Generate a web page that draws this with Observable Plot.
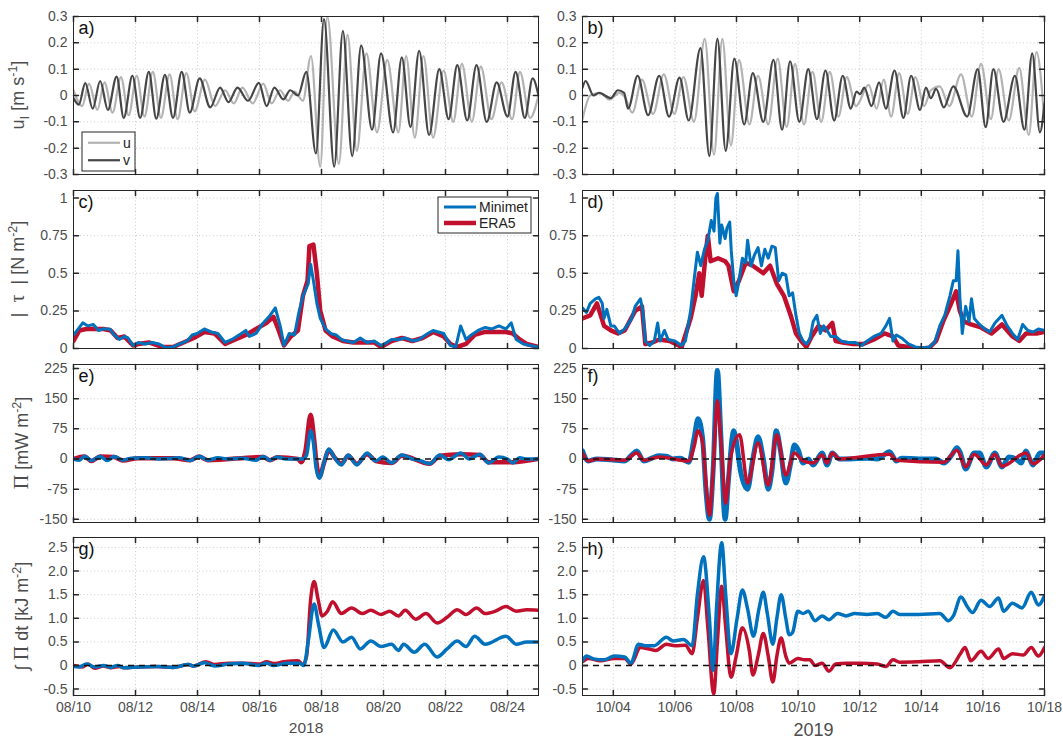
<!DOCTYPE html>
<html><head><meta charset="utf-8">
<script src="https://cdn.jsdelivr.net/npm/d3@7"></script>
<script src="https://cdn.jsdelivr.net/npm/@observablehq/plot@0.6"></script>
<style>
body{margin:0;background:#fff;}
#chart{position:relative;width:1063px;height:738px;overflow:hidden;background:#fff;}
#chart svg{position:absolute;overflow:visible;}
</style></head><body><div id="chart"></div>
<script>
// ---------- data: [day offset from start date, value] ----------
const start2018 = "2018-08-10", end2018 = "2018-08-25";
const start2019 = "2019-10-03", end2019 = "2019-10-18";

// a) inertial currents 2018 (m/s)
const a_u = [[0,0.02],[0.28,-0.04],[0.50,0.045],[0.77,-0.055],[1.00,0.05],[1.26,-0.065],[1.53,0.07],[1.78,-0.075],[2.04,0.075],[2.29,-0.08],[2.56,0.09],[2.82,-0.085],[3.10,0.08],[3.36,-0.09],[3.64,0.085],[3.91,-0.06],[4.24,0.06],[4.57,-0.04],[4.89,0.02],[5.17,-0.03],[5.45,0.03],[5.78,-0.03],[6.12,0.045],[6.39,-0.03],[6.66,0.02],[6.92,-0.02],[7.13,0.015],[7.40,-0.02],[7.66,0.15],[7.96,-0.27],[8.19,0.30],[8.56,-0.26],[8.84,0.23],[9.14,-0.21],[9.45,0.16],[9.79,-0.14],[10.12,0.135],[10.48,-0.14],[10.73,0.15],[11.01,-0.16],[11.29,0.15],[11.60,-0.16],[11.94,0.095],[12.25,-0.10],[12.53,0.12],[12.85,-0.10],[13.14,0.11],[13.48,-0.09],[13.81,0.05],[14.15,-0.09],[14.40,0.09],[14.73,-0.085],[15.0,0.0]];
const a_v = [[0,-0.01],[0.17,-0.035],[0.38,0.047],[0.62,-0.05],[0.86,0.055],[1.11,-0.055],[1.39,0.072],[1.62,-0.085],[1.90,0.075],[2.15,-0.085],[2.43,0.09],[2.67,-0.088],[2.95,0.078],[3.21,-0.085],[3.49,0.09],[3.75,-0.065],[4.07,0.065],[4.41,-0.045],[4.73,0.03],[5.00,-0.025],[5.29,0.03],[5.63,-0.02],[5.98,0.048],[6.23,-0.04],[6.48,0.03],[6.77,-0.015],[6.99,0.02],[7.24,0.0],[7.51,0.09],[7.82,-0.22],[8.08,0.29],[8.41,-0.27],[8.69,0.245],[8.99,-0.23],[9.28,0.19],[9.63,-0.13],[9.92,0.16],[10.31,-0.14],[10.59,0.145],[10.87,-0.12],[11.15,0.17],[11.47,-0.15],[11.80,0.10],[12.10,-0.09],[12.38,0.115],[12.70,-0.095],[13.00,0.115],[13.33,-0.10],[13.65,0.05],[14.00,-0.08],[14.26,0.09],[14.56,-0.085],[14.81,0.065],[15.0,0.0]];

// b) inertial currents 2019 (m/s)
const b_u = [[0,-0.09],[0.25,0.0],[0.58,0.01],[0.87,-0.015],[1.20,0.01],[1.37,-0.005],[1.62,-0.065],[1.93,0.06],[2.29,-0.07],[2.64,0.08],[2.98,-0.07],[3.28,0.07],[3.62,-0.10],[3.97,0.215],[4.27,-0.225],[4.54,0.215],[4.82,-0.19],[5.08,0.135],[5.42,-0.11],[5.70,0.075],[6.03,-0.11],[6.34,0.14],[6.63,-0.12],[6.90,0.12],[7.19,-0.11],[7.47,0.09],[7.75,-0.10],[8.03,0.09],[8.31,-0.08],[8.58,0.07],[8.88,-0.04],[9.29,0.04],[9.55,-0.05],[9.78,0.06],[10.02,-0.08],[10.28,0.085],[10.56,-0.07],[10.81,0.07],[11.09,-0.04],[11.31,0.02],[11.60,0.035],[11.91,-0.04],[12.29,0.08],[12.64,-0.08],[12.94,0.12],[13.26,-0.09],[13.51,0.10],[13.84,-0.095],[14.18,0.105],[14.49,-0.15],[14.74,0.165],[15.0,-0.10]];
const b_v = [[0,0.03],[0.10,0.055],[0.36,0.0],[0.53,0.01],[0.92,-0.01],[1.15,0.02],[1.35,0.01],[1.48,-0.05],[1.79,0.075],[2.13,-0.075],[2.49,0.075],[2.81,-0.08],[3.15,0.068],[3.45,-0.095],[3.83,0.18],[4.12,-0.23],[4.38,0.215],[4.65,-0.21],[4.93,0.14],[5.25,-0.11],[5.53,0.085],[5.87,-0.10],[6.20,0.135],[6.48,-0.13],[6.74,0.13],[7.04,-0.10],[7.33,0.10],[7.61,-0.09],[7.89,0.095],[8.17,-0.095],[8.45,0.075],[8.71,-0.05],[8.90,0.015],[9.01,0.005],[9.15,0.03],[9.38,-0.04],[9.63,0.05],[9.85,-0.05],[10.13,0.095],[10.42,-0.085],[10.67,0.075],[10.96,-0.055],[11.15,0.03],[11.31,-0.01],[11.48,0.025],[11.73,-0.045],[12.04,0.035],[12.49,-0.08],[12.83,0.10],[13.09,-0.12],[13.34,0.10],[13.67,-0.10],[14.04,0.075],[14.35,-0.13],[14.60,0.16],[14.85,-0.14],[15.0,-0.03]];

// c) wind stress 2018 (N/m2)
const c_mini = [[0,0.09],[0.19,0.14],[0.30,0.17],[0.47,0.15],[0.64,0.16],[0.81,0.12],[0.97,0.13],[1.17,0.13],[1.31,0.09],[1.48,0.06],[1.64,0.08],[1.76,0.07],[1.92,0.02],[2.09,0.04],[2.32,0.03],[2.54,0.04],[2.76,0.03],[2.99,0.005],[3.21,0.01],[3.43,0.03],[3.66,0.05],[3.83,0.09],[3.99,0.10],[4.22,0.13],[4.44,0.11],[4.66,0.10],[4.89,0.04],[5.11,0.06],[5.34,0.09],[5.56,0.12],[5.67,0.08],[5.89,0.10],[6.12,0.17],[6.34,0.22],[6.51,0.27],[6.68,0.14],[6.79,0.02],[6.96,0.10],[7.13,0.09],[7.26,0.23],[7.40,0.35],[7.57,0.43],[7.65,0.56],[7.74,0.45],[7.85,0.30],[7.96,0.20],[8.13,0.13],[8.30,0.10],[8.47,0.09],[8.64,0.06],[8.80,0.05],[9.03,0.04],[9.25,0.07],[9.47,0.04],[9.70,0.05],[9.92,0.02],[10.03,0.03],[10.26,0.06],[10.48,0.06],[10.70,0.07],[10.93,0.05],[11.15,0.06],[11.43,0.10],[11.60,0.12],[11.77,0.11],[11.94,0.10],[12.16,0.02],[12.33,0.01],[12.49,0.15],[12.66,0.06],[12.83,0.09],[13.05,0.12],[13.28,0.14],[13.50,0.13],[13.72,0.15],[13.95,0.13],[14.12,0.17],[14.28,0.06],[14.51,0.03],[14.73,0.02],[15.0,0.01]];
const c_era5 = [[0,0.05],[0.19,0.12],[0.41,0.13],[0.64,0.13],[0.97,0.13],[1.20,0.12],[1.42,0.07],[1.64,0.08],[1.92,0.02],[2.09,0.03],[2.43,0.04],[2.87,0.01],[3.21,0.01],[3.55,0.04],[3.88,0.07],[4.22,0.11],[4.55,0.10],[4.89,0.03],[5.22,0.06],[5.56,0.09],[5.89,0.13],[6.23,0.17],[6.45,0.21],[6.62,0.12],[6.79,0.02],[7.01,0.08],[7.24,0.12],[7.40,0.35],[7.55,0.45],[7.61,0.68],[7.74,0.69],[7.85,0.50],[7.96,0.25],[8.13,0.12],[8.36,0.08],[8.69,0.05],[9.03,0.04],[9.36,0.04],[9.70,0.04],[9.92,0.01],[10.26,0.05],[10.59,0.07],[10.93,0.05],[11.26,0.07],[11.60,0.11],[11.94,0.08],[12.16,0.03],[12.38,0.01],[12.66,0.03],[12.94,0.09],[13.28,0.11],[13.61,0.11],[13.95,0.11],[14.17,0.10],[14.39,0.06],[14.62,0.03],[15.0,0.01]];

// d) wind stress 2019 (N/m2)
const d_mini = [[0,0.27],[0.13,0.24],[0.25,0.30],[0.42,0.33],[0.53,0.34],[0.64,0.30],[0.70,0.20],[0.79,0.26],[0.92,0.15],[1.03,0.15],[1.20,0.10],[1.37,0.13],[1.60,0.20],[1.71,0.28],[1.88,0.33],[1.96,0.25],[2.04,0.05],[2.18,0.02],[2.33,0.05],[2.44,0.17],[2.52,0.05],[2.66,0.12],[2.78,0.06],[3.00,0.05],[3.22,0.02],[3.34,0.05],[3.51,0.25],[3.62,0.45],[3.73,0.64],[3.84,0.55],[3.96,0.66],[4.07,0.72],[4.18,0.85],[4.27,0.78],[4.33,1.0],[4.38,1.03],[4.46,0.70],[4.52,0.82],[4.63,0.73],[4.69,0.80],[4.78,0.84],[4.83,0.65],[4.91,0.45],[4.99,0.35],[5.08,0.45],[5.19,0.60],[5.30,0.57],[5.36,0.72],[5.47,0.55],[5.58,0.62],[5.70,0.67],[5.81,0.55],[5.92,0.66],[6.03,0.60],[6.15,0.68],[6.26,0.67],[6.37,0.45],[6.48,0.50],[6.60,0.49],[6.71,0.35],[6.82,0.37],[6.93,0.22],[7.04,0.10],[7.16,0.05],[7.27,0.03],[7.38,0.06],[7.49,0.18],[7.61,0.22],[7.72,0.10],[7.83,0.15],[7.94,0.12],[8.06,0.08],[8.22,0.08],[8.39,0.05],[8.62,0.04],[8.84,0.04],[9.07,0.02],[9.24,0.05],[9.46,0.08],[9.69,0.10],[9.85,0.15],[9.97,0.20],[10.08,0.05],[10.19,0.09],[10.36,0.07],[10.58,0.03],[10.81,0.01],[11.03,0.005],[11.26,0.01],[11.43,0.04],[11.60,0.15],[11.76,0.22],[11.93,0.35],[12.04,0.45],[12.13,0.45],[12.19,0.65],[12.25,0.35],[12.33,0.10],[12.44,0.28],[12.55,0.18],[12.63,0.33],[12.72,0.20],[12.89,0.16],[13.06,0.13],[13.22,0.11],[13.39,0.17],[13.62,0.22],[13.79,0.15],[13.96,0.10],[14.13,0.06],[14.29,0.16],[14.46,0.12],[14.63,0.11],[14.80,0.13],[15.0,0.12]];
const d_era5 = [[0,0.20],[0.25,0.22],[0.47,0.30],[0.70,0.15],[0.92,0.12],[1.15,0.10],[1.37,0.12],[1.71,0.25],[1.93,0.28],[2.04,0.03],[2.27,0.04],[2.49,0.06],[2.83,0.05],[3.22,0.01],[3.51,0.20],[3.67,0.35],[3.79,0.50],[3.87,0.35],[4.01,0.65],[4.07,0.75],[4.16,0.58],[4.40,0.60],[4.63,0.58],[4.74,0.55],[4.91,0.38],[5.08,0.45],[5.30,0.57],[5.53,0.55],[5.87,0.50],[6.09,0.55],[6.31,0.43],[6.54,0.35],[6.76,0.22],[6.93,0.10],[7.10,0.05],[7.27,0.01],[7.44,0.08],[7.66,0.15],[7.89,0.12],[8.11,0.17],[8.22,0.05],[8.45,0.04],[8.79,0.03],[9.12,0.03],[9.46,0.06],[9.80,0.10],[10.08,0.08],[10.25,0.02],[10.58,0.01],[10.92,-0.005],[11.26,0.005],[11.48,0.05],[11.71,0.18],[11.93,0.28],[12.13,0.38],[12.25,0.25],[12.38,0.18],[12.61,0.16],[12.94,0.14],[13.28,0.10],[13.62,0.16],[13.96,0.08],[14.18,0.05],[14.40,0.10],[14.74,0.10],[15.0,0.11]];

// e) wind work 2018 (mW/m2)
const e_mini = [[0,0],[0.19,-3],[0.36,7],[0.58,-4],[0.86,7],[1.09,-4],[1.31,6],[1.59,-3],[1.87,2],[2.32,3],[2.76,0],[3.21,2],[3.43,3],[3.77,-4],[4.05,7],[4.33,-3],[4.66,3],[5.00,0],[5.45,2],[5.89,-3],[6.12,6],[6.34,-3],[6.57,5],[6.85,0],[7.24,0],[7.40,0],[7.52,10],[7.65,70],[7.74,40],[7.82,-20],[7.93,-48],[8.08,-10],[8.24,25],[8.41,5],[8.64,-15],[8.86,10],[9.14,-15],[9.47,15],[9.75,-5],[9.98,5],[10.26,-10],[10.59,10],[10.93,0],[11.15,-3],[11.49,-12],[11.82,10],[12.10,-2],[12.49,15],[12.77,0],[13.11,12],[13.39,-10],[13.72,5],[14.00,0],[14.17,-10],[14.39,3],[14.62,0],[15.0,0]];
const e_era5 = [[0,0],[0.36,6],[0.58,-5],[0.86,6],[1.31,5],[1.59,-4],[2.09,2],[3.21,2],[3.77,-3],[4.05,6],[4.33,-3],[6.12,5],[6.34,-3],[6.57,4],[7.24,0],[7.35,-8],[7.48,20],[7.65,110],[7.76,50],[7.84,-10],[7.93,-45],[8.08,-10],[8.24,22],[8.41,5],[8.64,-12],[8.86,8],[9.14,-12],[9.47,12],[9.75,-5],[10.26,-10],[10.59,8],[11.49,-12],[11.82,8],[12.49,12],[13.11,10],[13.39,-8],[14.17,-8],[15.0,0]];

// f) wind work 2019 (mW/m2)
const f_mini = [[0,20],[0.19,-5],[0.47,0],[0.92,-2],[1.37,-5],[1.60,10],[1.76,20],[1.99,-5],[2.27,3],[2.49,8],[2.72,7],[2.94,0],[3.17,2],[3.45,-8],[3.62,50],[3.75,100],[3.90,50],[4.01,-80],[4.12,-150],[4.24,-30],[4.38,220],[4.49,60],[4.63,-150],[4.74,-50],[4.91,70],[4.97,55],[5.13,-30],[5.36,-75],[5.53,0],[5.70,55],[5.87,0],[6.03,-75],[6.15,-30],[6.29,70],[6.43,20],[6.60,-60],[6.76,-10],[6.88,35],[6.99,25],[7.16,-10],[7.33,0],[7.49,-15],[7.78,15],[7.94,-15],[8.11,15],[8.34,0],[8.67,0],[9.24,2],[9.57,0],[9.97,18],[10.19,-5],[10.36,2],[10.92,0],[11.48,0],[11.73,-10],[11.99,10],[12.16,28],[12.27,15],[12.44,-25],[12.72,15],[12.89,15],[13.11,-20],[13.39,15],[13.62,-20],[13.84,5],[14.07,0],[14.24,-10],[14.40,20],[14.52,0],[14.63,-15],[14.85,15],[15.0,15]];
const f_era5 = [[0,15],[0.19,-5],[0.47,0],[1.37,-3],[1.76,15],[1.99,-3],[2.49,5],[3.45,-5],[3.62,30],[3.75,70],[3.90,40],[4.01,-60],[4.12,-140],[4.24,-30],[4.38,145],[4.49,50],[4.65,-110],[4.80,0],[5.10,60],[5.36,-60],[5.70,40],[6.03,-65],[6.31,60],[6.60,-40],[6.88,15],[7.16,-5],[7.49,-10],[7.78,10],[7.94,-10],[8.11,15],[8.34,0],[9.97,12],[10.19,-3],[11.73,-8],[12.16,22],[12.44,-20],[12.72,12],[13.11,-15],[13.39,12],[13.62,-18],[14.40,15],[14.63,-12],[15.0,10]];

// g) integrated wind work 2018 (kJ/m2)
const g_mini = [[0,-0.02],[0.19,-0.03],[0.41,0.03],[0.69,-0.03],[0.97,0],[1.20,-0.04],[1.42,0],[1.64,-0.05],[2.09,-0.03],[2.76,-0.02],[3.21,-0.04],[3.71,0.02],[3.88,-0.01],[4.22,0.06],[4.55,-0.01],[5.00,0.03],[5.45,0.05],[5.95,0],[6.23,0.05],[6.45,0],[6.90,0.05],[7.29,0.05],[7.43,0],[7.57,0.5],[7.76,1.3],[7.91,0.85],[8.08,0.38],[8.38,0.75],[8.69,0.5],[8.97,0.6],[9.25,0.35],[9.59,0.52],[9.92,0.4],[10.26,0.45],[10.48,0.32],[10.65,0.45],[10.99,0.28],[11.33,0.45],[11.73,0.18],[12.05,0.35],[12.38,0.52],[12.66,0.40],[12.94,0.62],[13.28,0.45],[13.95,0.62],[14.28,0.45],[14.62,0.50],[15.0,0.50]];
const g_era5 = [[0,0],[0.30,-0.03],[0.47,0.03],[0.69,-0.06],[0.97,-0.01],[1.20,-0.05],[1.48,-0.02],[1.64,-0.05],[2.09,-0.03],[2.65,-0.02],[3.21,-0.04],[3.71,0.02],[3.88,-0.01],[4.27,0.08],[4.55,0.02],[5.00,0.05],[5.45,0.05],[6.01,0.03],[6.23,0.08],[6.45,0.04],[6.79,0.08],[7.24,0.10],[7.40,0.02],[7.52,0.20],[7.65,1.4],[7.76,1.78],[7.89,1.4],[8.02,1.05],[8.19,1.15],[8.36,1.35],[8.64,1.1],[8.97,1.22],[9.31,1.1],[9.59,1.17],[9.92,1.08],[10.20,1.15],[10.48,1.05],[10.70,1.17],[11.04,0.98],[11.37,1.1],[11.73,0.9],[12.05,1.02],[12.38,1.18],[12.66,1.08],[13.00,1.22],[13.28,1.1],[13.61,1.15],[13.95,1.25],[14.28,1.15],[14.62,1.18],[15.0,1.17]];

// h) integrated wind work 2019 (kJ/m2)
const h_mini = [[0,0.1],[0.13,0.2],[0.36,0.14],[0.70,0.12],[1.03,0.2],[1.37,0.18],[1.57,0.05],[1.82,0.45],[2.04,0.42],[2.33,0.42],[2.72,0.6],[2.94,0.52],[3.28,0.55],[3.56,0.42],[3.73,1.5],[3.93,2.3],[4.12,1.0],[4.24,-0.1],[4.35,1.2],[4.52,2.6],[4.65,1.5],[4.82,0.25],[5.02,1.0],[5.19,1.6],[5.36,1.2],[5.55,0.62],[5.73,1.2],[5.87,1.55],[6.00,1.1],[6.18,0.45],[6.31,1.0],[6.45,1.5],[6.60,1.0],[6.71,0.65],[6.82,0.7],[6.99,1.15],[7.16,1.1],[7.33,1.15],[7.55,0.95],[7.78,1.05],[8.00,0.97],[8.28,1.1],[8.56,1.05],[8.84,1.1],[9.24,1.08],[9.57,1.1],[9.85,1.02],[10.08,1.15],[10.30,1.08],[10.92,1.08],[11.60,1.1],[11.88,0.95],[12.04,1.05],[12.29,1.45],[12.49,1.25],[12.66,1.12],[12.94,1.38],[13.22,1.25],[13.51,1.43],[13.67,1.15],[13.96,1.32],[14.27,1.22],[14.57,1.55],[14.80,1.28],[15.0,1.48]];
const h_era5 = [[0,0.08],[0.19,0.15],[0.58,0.1],[1.03,0.15],[1.37,0.15],[1.57,0.03],[1.88,0.38],[2.16,0.35],[2.38,0.32],[2.72,0.45],[3.00,0.42],[3.34,0.43],[3.56,0.25],[3.73,1.0],[3.93,1.8],[4.07,0.8],[4.26,-0.6],[4.38,0.5],[4.52,1.68],[4.65,0.8],[4.82,-0.25],[4.99,0.2],[5.19,0.8],[5.42,0.3],[5.53,-0.2],[5.70,0.2],[5.87,0.68],[6.03,0.2],[6.18,-0.35],[6.31,0.2],[6.45,0.58],[6.60,0.2],[6.71,0.05],[6.99,0.15],[7.21,0.12],[7.38,0.12],[7.55,0],[7.78,0.05],[8.00,-0.12],[8.22,0.03],[8.56,0.05],[9.01,0.05],[9.57,0.03],[9.85,-0.02],[10.08,0.12],[10.30,0.07],[10.92,0.08],[11.60,0.1],[11.93,-0.05],[12.27,0.25],[12.42,0.38],[12.61,0.1],[12.94,0.3],[13.17,0.15],[13.51,0.35],[13.67,0.15],[13.96,0.25],[14.31,0.22],[14.57,0.38],[14.80,0.2],[15.0,0.38]];

// tick values
const yTicksA = [-0.3,-0.2,-0.1,0,0.1,0.2,0.3];
const yTicksC = [0,0.25,0.5,0.75,1];
const yTicksE = [-150,-75,0,75,150,225];
const yTicksG = [-0.5,0,0.5,1.0,1.5,2.0,2.5];
const years = ["2018","2019"];

// ---------- helpers ----------
const DAY = 864e5;
const FONT = "'Liberation Sans', Arial, Helvetica, sans-serif";
const AX = "#262626", TXT = "#4d4d4d";
const BLUE = "#0072BD", RED = "#C0102E", LIGHT = "#b3b3b3", DARK = "#464646";
const startMs = [Date.parse(start2018+"T00:00Z"), Date.parse(start2019+"T00:00Z")];
const endMs = [Date.parse(end2018+"T00:00Z"), Date.parse(end2019+"T00:00Z")];
const xTicks = [
  d3.utcDay.range(new Date(startMs[0]), new Date(endMs[0]), 2),
  d3.utcDay.range(new Date(startMs[1] + DAY), new Date(endMs[1] + DAY), 2)
];
const toRows = (arr, col) => arr.map(([d, v]) => ({t: new Date(startMs[col] + d * DAY), v}));
const tickShape = {draw(ctx, l) { ctx.moveTo(0, 0); ctx.lineTo(0, -l); }};
const fmt1 = d => d === 0 ? "0" : d.toFixed(1);
const fmtG = d => String(d);

const ROW_TOP = [16, 190, 364, 537];
const PH = 158;
const chart = document.getElementById("chart");

function panel({col, row, domain, yt, yfmt, lines, tag, zero}) {
  const left = col === 0;
  const width = left ? 540 : 523;
  const mL = left ? 73 : 42, mR = left ? 2 : 19;
  const mT = 10, mB = row === 3 ? 44 : 10;
  const xt = xTicks[col];
  const marks = [
    Plot.gridX(xt, {stroke: "#c8c8c8", strokeOpacity: 1, strokeDasharray: "1,2.5", strokeWidth: 0.9}),
    Plot.gridY(yt, {stroke: "#c8c8c8", strokeOpacity: 1, strokeDasharray: "1,2.5", strokeWidth: 0.9}),
  ];
  for (const L of lines) {
    marks.push(Plot.line(toRows(L.data, col), {x: "t", y: "v", stroke: L.color, strokeWidth: L.w, curve: L.curve, clip: true, strokeLinejoin: "round"}));
  }
  if (zero) marks.push(Plot.ruleY([0], {stroke: "#111", strokeWidth: 1.6, strokeDasharray: "6,5"}));
  marks.push(
    Plot.frame({stroke: AX, strokeWidth: 1}),
    Plot.vectorX(xt, {frameAnchor: "bottom", length: 5, rotate: 0, anchor: "start", shape: tickShape, stroke: AX}),
    Plot.vectorX(xt, {frameAnchor: "top", length: 5, rotate: 180, anchor: "start", shape: tickShape, stroke: AX}),
    Plot.vectorY(yt, {frameAnchor: "left", length: 5, rotate: 90, anchor: "start", shape: tickShape, stroke: AX}),
    Plot.vectorY(yt, {frameAnchor: "right", length: 5, rotate: -90, anchor: "start", shape: tickShape, stroke: AX}),
    Plot.axisY(yt, {anchor: "left", tickSize: 0, tickPadding: 6, tickFormat: yfmt, label: null, fill: TXT, fontSize: 14}),
    Plot.text([tag], {text: d => d, frameAnchor: "top-left", dx: 5, dy: 5, lineAnchor: "top", textAnchor: "start", fontSize: 18, fill: "#111"})
  );
  if (row === 3) {
    marks.push(
      Plot.axisX(xt, {anchor: "bottom", tickSize: 0, tickPadding: 7, tickFormat: d3.utcFormat("%m/%d"), label: null, fill: TXT, fontSize: 14}),
      Plot.text([years[col]], {text: d => d, frameAnchor: "bottom", dy: col === 0 ? 37 : 40, fontSize: col === 0 ? 15.5 : 18, fill: TXT})
    );
  }
  const svg = Plot.plot({
    width, height: PH + mT + mB,
    marginLeft: mL, marginRight: mR, marginTop: mT, marginBottom: mB,
    x: {type: "utc", domain: [new Date(startMs[col]), new Date(endMs[col])], axis: null},
    y: {domain, axis: null},
    style: {fontFamily: FONT, fontSize: "14px", color: TXT, background: "transparent", overflow: "visible"},
    marks
  });
  svg.style.left = (left ? 0 : 540) + "px";
  svg.style.top = (ROW_TOP[row] - mT) + "px";
  chart.appendChild(svg);
  return {svg: d3.select(svg), ox: mL, oy: mT, top: ROW_TOP[row]};
}

function yLabel(p, parts, cx, cy) {
  const t = p.svg.append("text")
    .attr("transform", `translate(${cx},${cy - p.top + p.oy}) rotate(-90)`)
    .attr("text-anchor", "middle").attr("font-family", FONT).style("font-size", "18px").attr("fill", TXT);
  let shift = 0;
  for (const [s, k] of parts) {
    const ts = t.append("tspan").text(s);
    let target = 0;
    if (k === "sup") { target = -7.5; ts.style("font-size", "12.5px"); }
    else if (k === "sub") { target = 4.5; ts.style("font-size", "13px"); }
    else if (k === "serif") { ts.attr("font-family", "'Liberation Serif', 'DejaVu Serif', serif").style("font-size", "20px"); }
    if (target !== shift) { ts.attr("dy", target - shift); shift = target; }
  }
}

function legend(p, x, y, w, h, items) {
  const g = p.svg.append("g").attr("transform", `translate(${p.ox + x},${p.oy + y})`);
  g.append("rect").attr("width", w).attr("height", h).attr("fill", "#fff").attr("stroke", AX).attr("stroke-width", 1);
  items.forEach((it, i) => {
    const yy = h * (i + 0.5) / items.length + (i === 0 ? 1 : -1);
    g.append("line").attr("x1", 6).attr("x2", it.len + 6).attr("y1", yy).attr("y2", yy).attr("stroke", it.color).attr("stroke-width", it.w);
    g.append("text").attr("x", it.len + 9).attr("y", yy).attr("dy", "0.35em").attr("text-anchor", "start")
      .attr("font-family", FONT).style("font-size", "14px").attr("fill", "#222").text(it.label);
  });
}

// ---------- panels ----------
const specs = [
  {col: 0, row: 0, domain: [-0.3, 0.3], yt: yTicksA, yfmt: fmt1, tag: "a)", lines: [
    {data: a_u, color: LIGHT, w: 2.2, curve: "monotone-x"}, {data: a_v, color: DARK, w: 2.2, curve: "monotone-x"}]},
  {col: 1, row: 0, domain: [-0.3, 0.3], yt: yTicksA, yfmt: fmt1, tag: "b)", lines: [
    {data: b_u, color: LIGHT, w: 2.2, curve: "monotone-x"}, {data: b_v, color: DARK, w: 2.2, curve: "monotone-x"}]},
  {col: 0, row: 1, domain: [0, 1.05], yt: yTicksC, yfmt: fmtG, tag: "c)", lines: [
    {data: c_era5, color: RED, w: 4.5, curve: "linear"}, {data: c_mini, color: BLUE, w: 3, curve: "linear"}]},
  {col: 1, row: 1, domain: [0, 1.05], yt: yTicksC, yfmt: fmtG, tag: "d)", lines: [
    {data: d_era5, color: RED, w: 4.5, curve: "linear"}, {data: d_mini, color: BLUE, w: 3, curve: "linear"}]},
  {col: 0, row: 2, domain: [-158, 235], yt: yTicksE, yfmt: fmtG, tag: "e)", zero: true, lines: [
    {data: e_era5, color: RED, w: 4.5, curve: "monotone-x"}, {data: e_mini, color: BLUE, w: 3.5, curve: "monotone-x"}]},
  {col: 1, row: 2, domain: [-158, 235], yt: yTicksE, yfmt: fmtG, tag: "f)", zero: true, lines: [
    {data: f_mini, color: BLUE, w: 5, curve: "monotone-x"}, {data: f_era5, color: RED, w: 3.5, curve: "monotone-x"}]},
  {col: 0, row: 3, domain: [-0.635, 2.71], yt: yTicksG, yfmt: fmt1, tag: "g)", zero: true, lines: [
    {data: g_era5, color: RED, w: 3.5, curve: "monotone-x"}, {data: g_mini, color: BLUE, w: 3.5, curve: "monotone-x"}]},
  {col: 1, row: 3, domain: [-0.635, 2.71], yt: yTicksG, yfmt: fmt1, tag: "h)", zero: true, lines: [
    {data: h_era5, color: RED, w: 3.5, curve: "monotone-x"}, {data: h_mini, color: BLUE, w: 3.5, curve: "monotone-x"}]},
];
const P = specs.map(s => panel(s));

yLabel(P[0], [["u", "n"], ["I", "sub"], [" [m s", "n"], ["-1", "sup"], ["]", "n"]], 24, 95);
yLabel(P[2], [["|  ", "n"], ["τ", "serif"], ["  | [N m", "n"], ["-2", "sup"], ["]", "n"]], 24, 269);
yLabel(P[4], [["Π", "serif"], [" [mW m", "n"], ["-2", "sup"], ["]", "n"]], 28, 443);
yLabel(P[6], [["∫ ", "n"], ["Π", "serif"], [" dt [kJ m", "n"], ["-2", "sup"], ["]", "n"]], 28, 616);

legend(P[0], 9, 116, 53, 39, [
  {label: "u", color: LIGHT, w: 2.2, len: 32}, {label: "v", color: DARK, w: 2.2, len: 32}]);
legend(P[2], 365, 7, 93, 36, [
  {label: "Minimet", color: BLUE, w: 3, len: 32}, {label: "ERA5", color: RED, w: 4.5, len: 32}]);
</script></body></html>
